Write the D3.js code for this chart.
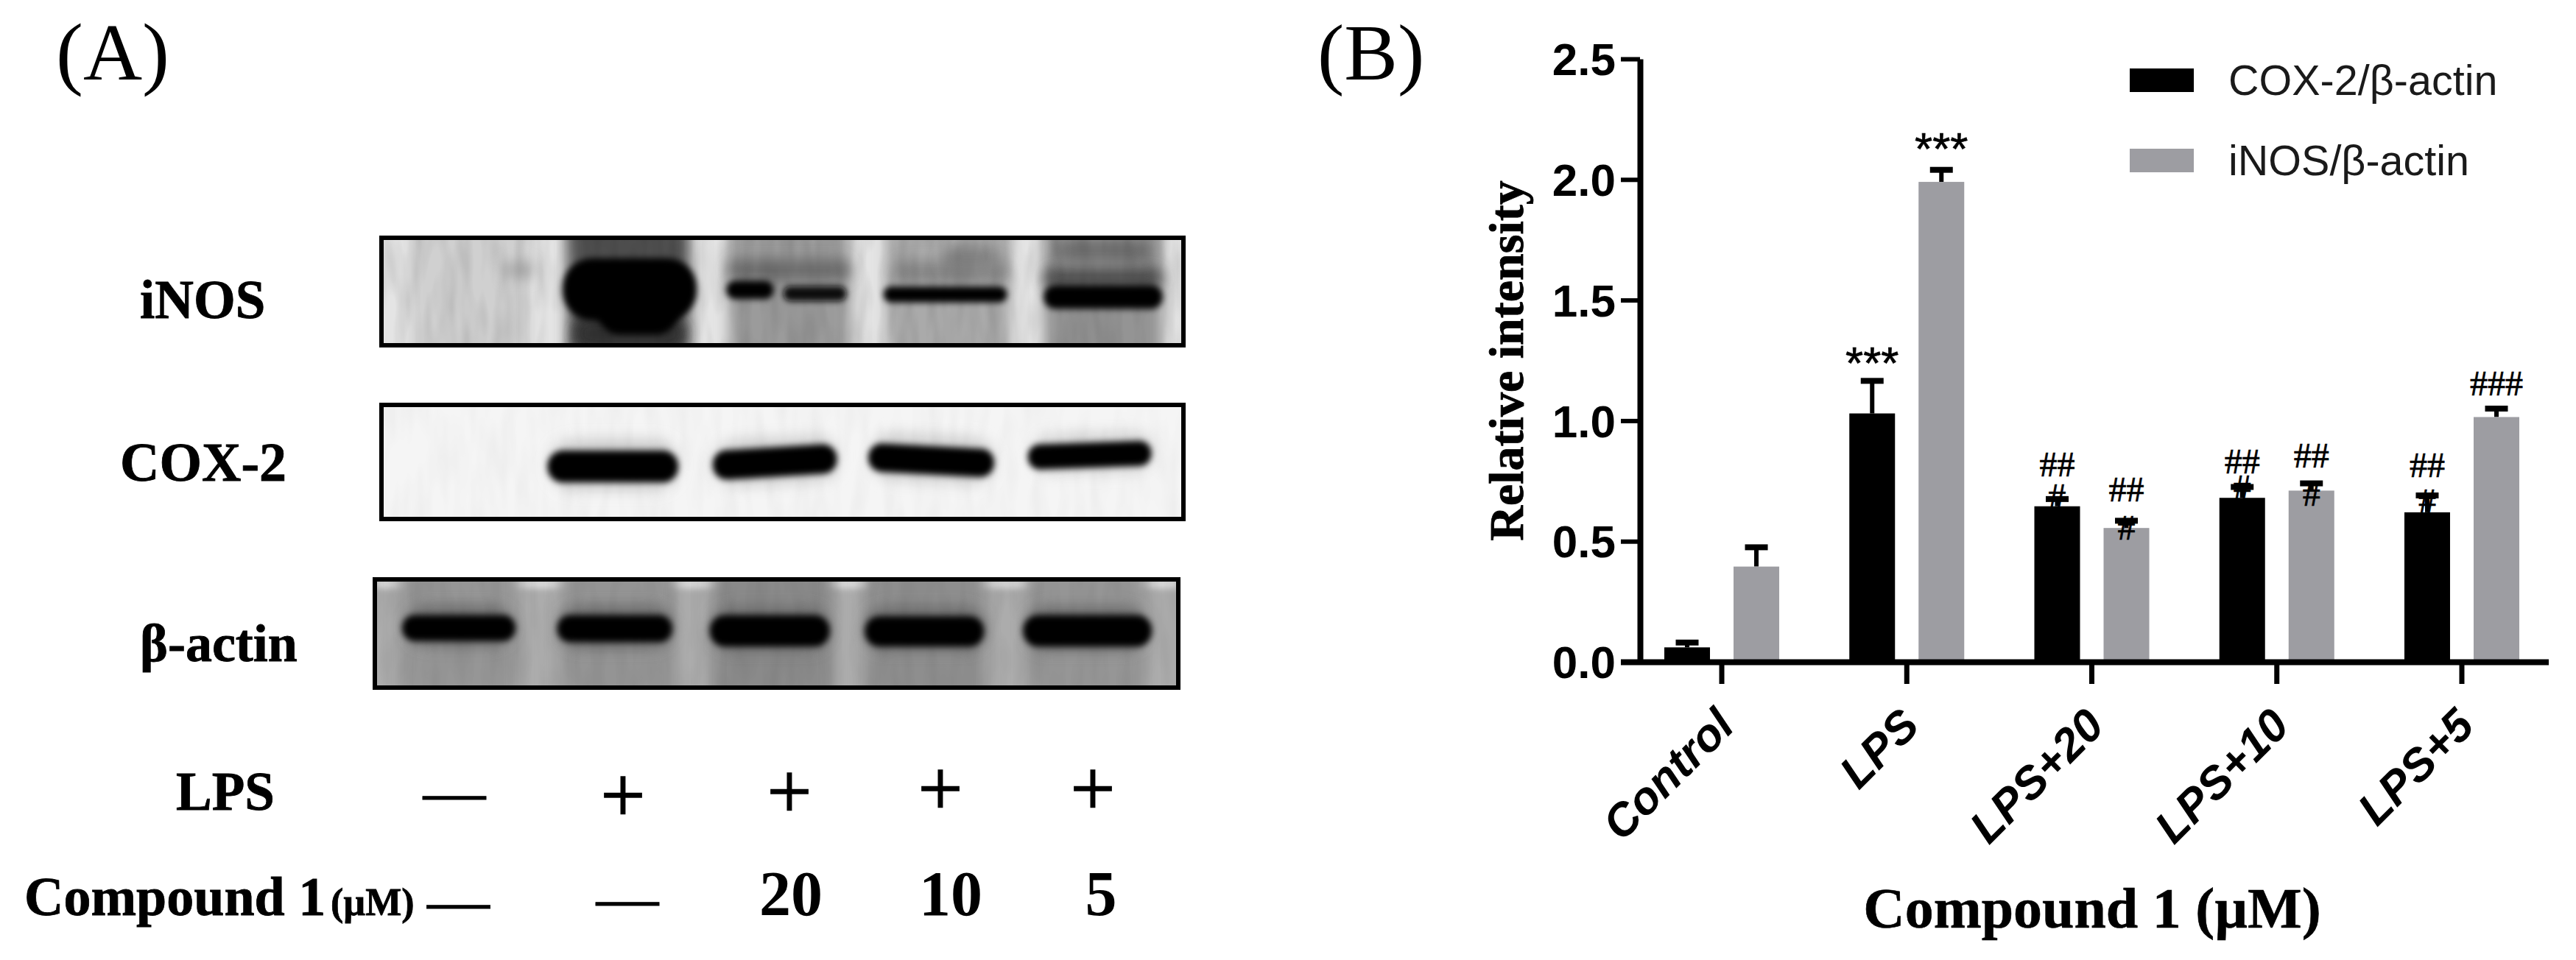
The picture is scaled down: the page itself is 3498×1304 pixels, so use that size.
<!DOCTYPE html>
<html><head><meta charset="utf-8">
<script src="https://cdn.jsdelivr.net/npm/d3@7/dist/d3.min.js"></script>
<style>html,body{margin:0;background:#fff}svg{display:block}
.serif{font-family:"Liberation Serif",serif}.sans{font-family:"Liberation Sans",sans-serif}</style>
</head><body><svg id="c" width="3498" height="1304"></svg>
<script>
// ---- Panel B data
const categories = ["Control","LPS","LPS+20","LPS+10","LPS+5"];
const seriesNames = ["COX-2/β-actin","iNOS/β-actin"];
const cox2 = [0.06,1.03,0.645,0.68,0.62];
const inos = [0.395,1.99,0.555,0.71,1.015];
const cox2Upper = [0.08,1.165,0.675,0.725,0.69];
const inosUpper = [0.475,2.04,0.585,0.74,1.05];
const yTicks = [0,0.5,1,1.5,2,2.5];
const cox2Marks = ["","***","##","##","##"];
const inosMarks = ["","***","##","##","###"];
const cox2MarkLevel = [0,1.175,0.769,0.78,0.765];
const inosMarkLevel = [0,2.065,0.665,0.806,1.106];
const cox2Hash = [null,null,0.638,0.675,0.617];
const inosHash = [null,null,0.507,0.647,null];
// ---- Panel A data: blot readings in gel percent [x0,x1,y0,y1,gray,tilt]
const laneRows = [["—","+","+","+","+"],["—","—","20","10","5"]];
const inosLanes = [[3.6,18.6,208],[23.2,38.4,80],[43.3,58.4,155],[63,78.3,170],[82.6,97.4,148]];
const inosHalo = [[15,19,22,38,170,0],[24,38,74,104,50,0],[43.3,58.4,20,40,110,0],[64,78,22,42,135,0],[70,77,8,30,130,0],[82.6,97.4,28,47,80,0],[84,96,2,22,110,0]];
const inosBands = [[22.6,39.3,21,75,0,0],[27,37,50,88,0,0],[43,48.9,42,55,0,0],[50.1,58,47,57,8,0],[62.6,78,47.5,58,5,0],[82.6,97.4,46,64,0,0]];
const coxBands = [[20.7,37,42,66,0,0],[41.3,56.8,39,61,0,-3.5],[60.7,76.4,38,59,0,3],[80.6,96,35,53,0,-2]];
const coxHalo = [[21,37,30,75,205,0],[41.5,57,28,70,210,-3],[61,76.5,26,68,210,3],[81,96,24,60,215,-2]];
const actinLanes = [[3,18,150],[23,37.5,148],[42,57,138],[61,76,142],[81,96,150]];
const actinBands = [[3.4,17.5,35,55,0,0],[22.7,37,35,56,0,0],[41.7,56.6,35,60,0,0],[61,75.8,36,60,0,0],[80.7,96.7,35,60,0,0]];
const actinHalo = [[4,17,24,62,110,0],[23,37,24,64,110,0],[42,56.5,25,66,110,0],[61,76,25,66,110,0],[81,96,25,66,110,0]];
const blots = [
 {name:"iNOS",x:[518,1607],y:[323,469],bg:228,grain:0.12,lanes:inosLanes,halo:inosHalo,bands:inosBands},
 {name:"COX-2",x:[518,1607],y:[550,705],bg:245,grain:0.035,lanes:[],halo:coxHalo,bands:coxBands},
 {name:"β-actin",x:[509,1600],y:[787,934],bg:172,grain:0.06,lanes:actinLanes,halo:actinHalo,bands:actinBands}
];

const svg = d3.select("#c");
const defs = svg.append("defs");
[["b3",4],["b9",9],["b14",13]].forEach(([id,s])=>{
  defs.append("filter").attr("id",id).attr("x","-30%").attr("y","-80%").attr("width","160%").attr("height","260%")
    .append("feGaussianBlur").attr("stdDeviation",s);
});
// vertical-streak gel grain
const grain = defs.append("filter").attr("id","grain").attr("x",0).attr("y",0).attr("width","100%").attr("height","100%");
grain.append("feTurbulence").attr("type","fractalNoise").attr("baseFrequency","0.05 0.012").attr("numOctaves",2).attr("seed",4);
grain.append("feColorMatrix").attr("type","matrix").attr("values","0 0 0 0 0  0 0 0 0 0  0 0 0 0 0  1.6 0 0 0 -0.55");
const gr = v => d3.rgb(v,v,v).formatHex();

const txt = (t,x,y,size,o={}) => {
  const e = svg.append("text").attr("class",o.sans?"sans":"serif").attr("x",x).attr("y",y)
  .attr("font-size",size).attr("font-weight",o.bold?"bold":"normal").attr("text-anchor",o.anchor||"start").attr("fill","#000").text(t);
  if(o.stroke) e.attr("stroke","#000").attr("stroke-width",o.stroke);
  return e;
};
txt("(A)",76,108,111);
txt("(B)",1789,108,109);

blots.forEach((b,i)=>{
  const sx = d3.scaleLinear([0,100],b.x), sy = d3.scaleLinear([0,100],b.y);
  const cid = "clip"+i;
  const W = b.x[1]-b.x[0], H = b.y[1]-b.y[0];
  defs.append("clipPath").attr("id",cid).append("rect").attr("x",b.x[0]).attr("y",b.y[0]).attr("width",W).attr("height",H);
  const g = svg.append("g").attr("clip-path",`url(#${cid})`);
  g.append("rect").attr("x",b.x[0]).attr("y",b.y[0]).attr("width",W).attr("height",H).attr("fill",gr(b.bg));
  if(i===2) g.append("rect").attr("x",b.x[0]).attr("y",b.y[0]).attr("width",W).attr("height",12).attr("fill","#dcdcdc").attr("filter","url(#b3)");
  g.selectAll(".lane").data(b.lanes).join("rect").attr("x",d=>sx(d[0])).attr("width",d=>sx(d[1])-sx(d[0]))
    .attr("y",b.y[0]-30).attr("height",H+60).attr("fill",d=>gr(d[2])).attr("filter","url(#b9)");
  const band = (sel,data,f,pad) => sel.selectAll(null).data(data).join("rect")
    .attr("x",d=>sx(d[0])).attr("width",d=>sx(d[1])-sx(d[0]))
    .attr("y",d=>sy(d[2])-pad).attr("height",d=>sy(d[3])-sy(d[2])+2*pad)
    .attr("rx",d=>Math.min(sx(d[1])-sx(d[0]),sy(d[3])-sy(d[2])+2*pad)*0.48).attr("ry",d=>(sy(d[3])-sy(d[2])+2*pad)*0.48)
    .attr("fill",d=>gr(d[4])).attr("filter",`url(#${f})`)
    .attr("transform",d=>`rotate(${d[5]} ${(sx(d[0])+sx(d[1]))/2} ${(sy(d[2])+sy(d[3]))/2})`);
  band(g,b.halo,"b9",0);
  g.append("rect").attr("x",b.x[0]).attr("y",b.y[0]).attr("width",W).attr("height",H).attr("filter","url(#grain)").attr("opacity",b.grain);
  band(g,b.bands,"b3",3);
  svg.append("rect").attr("x",b.x[0]).attr("y",b.y[0]).attr("width",W).attr("height",H)
    .attr("fill","none").attr("stroke","#000").attr("stroke-width",6);
});

const heavy = {bold:true,stroke:0.8};
txt("iNOS",190,432,73,heavy);
txt("COX-2",163,653,74,heavy);
txt("β-actin",190,898,72,heavy);
txt("LPS",239,1100,73,heavy);
txt("Compound 1",33,1243,74,heavy);
txt("(µM)",449,1243,52,heavy);
txt("—",580,1252,85,{stroke:0.8});

const row1X = [617,846,1072,1277,1484];
const plusBase = [1104,1116,1111,1107,1107];
laneRows[0].forEach((t,i)=>{
  txt(t,row1X[i],plusBase[i],t==="+"?108:85,{anchor:"middle",stroke:t==="+"?1.5:0.8});
});
const row2X = [null,852,1074,1291,1495];
laneRows[1].forEach((t,i)=>{
  if(i===0) return;
  if(t==="—") txt(t,row2X[i],1248,85,{anchor:"middle",stroke:0.8});
  else txt(t,row2X[i],1243,86,{anchor:"middle",bold:true});
});

// ---- Panel B
const y = d3.scaleLinear().domain([0,2.5]).range([899,80]);
const x0 = d3.scaleBand().domain(categories).range([2212.4,3468.6]);
const x1 = d3.scaleBand().domain(seriesNames).range([0,x0.bandwidth()]).paddingInner(32/94).paddingOuter(47.6/94);
const colors = d3.scaleOrdinal(seriesNames,["#000000","#9d9da2"]);
const rows = [
 {s:seriesNames[0],v:cox2,u:cox2Upper,m:cox2Marks,l:cox2MarkLevel,h:cox2Hash},
 {s:seriesNames[1],v:inos,u:inosUpper,m:inosMarks,l:inosMarkLevel,h:inosHash}
];
rows.forEach(r=>{
  const g = svg.append("g");
  const X = i => x0(categories[i])+x1(r.s), W = x1.bandwidth();
  const idx = d3.range(categories.length);
  g.selectAll(".stem").data(idx).join("line").attr("x1",i=>X(i)+W/2).attr("x2",i=>X(i)+W/2)
    .attr("y1",i=>y(r.v[i])).attr("y2",i=>y(r.u[i])).attr("stroke","#000").attr("stroke-width",6);
  g.selectAll(".cap").data(idx).join("line").attr("x1",i=>X(i)+W/2-15.5).attr("x2",i=>X(i)+W/2+15.5)
    .attr("y1",i=>y(r.u[i])).attr("y2",i=>y(r.u[i])).attr("stroke","#000").attr("stroke-width",8);
  g.selectAll(".bar").data(idx).join("rect").attr("x",X).attr("width",W)
    .attr("y",i=>y(r.v[i])).attr("height",i=>y(0)-y(r.v[i])).attr("fill",colors(r.s));
  idx.forEach(i=>{
    if(r.m[i]) txt(r.m[i],X(i)+W/2,y(r.l[i]),r.m[i][0]==="*"?62:48,{anchor:"middle",sans:r.m[i][0]==="*",stroke:0.7});
    if(r.h[i]!=null) txt("#",X(i)+W/2,y(r.h[i]),48,{anchor:"middle",stroke:0.7});
  });
});

const yAxis = svg.append("g").attr("transform","translate(2227,0)")
  .call(d3.axisLeft(y).tickValues(yTicks).tickFormat(d3.format(".1f")).tickSize(26).tickPadding(7).tickSizeOuter(0));
yAxis.select(".domain").attr("stroke-width",8);
yAxis.selectAll("line").attr("stroke","#000").attr("stroke-width",6);
yAxis.selectAll("text").attr("class","sans").attr("font-size",62).attr("font-weight","bold").attr("font-family",null).attr("fill","#000").attr("dy","0.35em");

const xAxis = svg.append("g").attr("transform","translate(0,899)")
  .call(d3.axisBottom(x0).tickSize(30).tickSizeOuter(0));
xAxis.select(".domain").attr("stroke-width",8).attr("d","M2201,0.5H3461");
xAxis.selectAll("line").attr("stroke","#000").attr("stroke-width",7);
xAxis.selectAll("text").attr("class","sans").attr("font-size",62).attr("font-weight","bold").attr("font-style","italic")
  .attr("font-family",null).attr("fill","#000").attr("text-anchor","end").attr("dy",0).attr("y",0)
  .attr("transform","translate(20,90) rotate(-45)");

svg.append("text").attr("class","serif").attr("transform","translate(2068,490) rotate(-90)").attr("text-anchor","middle")
  .attr("font-size",66).attr("font-weight","bold").attr("stroke","#000").attr("stroke-width",0.8).text("Relative intensity");
txt("Compound 1 (µM)",2841,1260,78,{anchor:"middle",bold:true,stroke:0.6});

// legend
const legendTop = d3.scalePoint().domain(seriesNames).range([93,202]);
seriesNames.forEach(s=>{
  svg.append("rect").attr("x",2892).attr("y",legendTop(s)).attr("width",87).attr("height",32).attr("fill",colors(s));
  txt(s,3026,legendTop(s)+36,57.5,{sans:true}).attr("fill","#1a1a1a");
});
</script></body></html>
